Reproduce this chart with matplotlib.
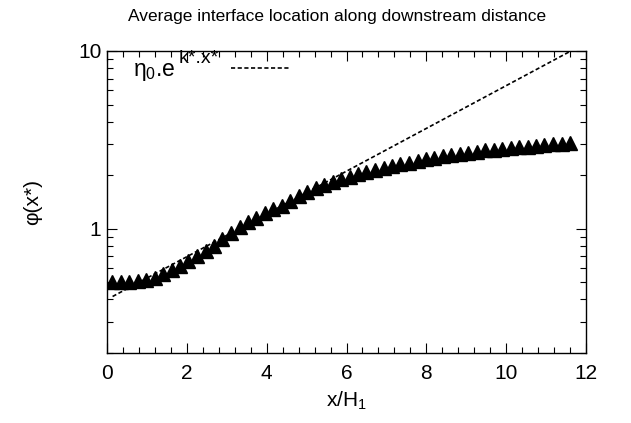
import matplotlib
matplotlib.use("Agg")
import matplotlib.pyplot as plt
from matplotlib.ticker import AutoMinorLocator, LogLocator, NullFormatter, FixedLocator, FixedFormatter
from matplotlib.lines import Line2D
import numpy as np

plt.rcParams['font.family'] = ['Liberation Sans', 'DejaVu Sans']
plt.rcParams['mathtext.fontset'] = 'custom'
plt.rcParams['mathtext.rm'] = 'Liberation Sans'
plt.rcParams['mathtext.it'] = 'Liberation Sans'
plt.rcParams['mathtext.default'] = 'regular'

# measured data (triangles)
x_data = [0.13, 0.34, 0.55, 0.77, 0.98, 1.19, 1.40, 1.62, 1.83, 2.04,
          2.25, 2.47, 2.68, 2.89, 3.10, 3.32, 3.53, 3.74, 3.95, 4.16,
          4.38, 4.59, 4.80, 5.01, 5.23, 5.44, 5.65, 5.86, 6.08, 6.29,
          6.50, 6.71, 6.93, 7.14, 7.35, 7.56, 7.78, 7.99, 8.20, 8.41,
          8.63, 8.84, 9.05, 9.26, 9.48, 9.69, 9.90, 10.11, 10.33, 10.54,
          10.75, 10.96, 11.18, 11.39, 11.60]
phi_data = [0.50, 0.50, 0.50, 0.505, 0.515, 0.53, 0.555, 0.585, 0.615, 0.655,
            0.70, 0.745, 0.80, 0.88, 0.95, 1.02, 1.09, 1.15, 1.22, 1.29,
            1.35, 1.44, 1.53, 1.62, 1.70, 1.77, 1.84, 1.90, 1.96, 2.02,
            2.08, 2.13, 2.19, 2.25, 2.30, 2.35, 2.41, 2.46, 2.51, 2.55,
            2.60, 2.64, 2.68, 2.72, 2.76, 2.79, 2.82, 2.85, 2.88, 2.90,
            2.93, 2.95, 2.98, 3.01, 3.05]

# exponential fit parameters
eta0 = 0.40
kstar = 0.277
fit_x = [0.14, 12.0]

W, H = 631, 423
fig = plt.figure(figsize=(W/100, H/100), dpi=100)
ax = fig.add_axes([107/W, 1-353/H, (586-107)/W, (353-51)/H])

dash = (0, (2.5, 1.5))
xs = np.linspace(fit_x[0], fit_x[1], 300)
ax.plot(xs, eta0*np.exp(kstar*xs), color='black', lw=1.2, ls=dash, zorder=2)
ax.plot(x_data, phi_data, ls='none', marker='^', ms=9.5, color='black', zorder=3)

ax.set_yscale('log')
ax.set_xlim(0, 12)
ax.set_ylim(0.2, 10)

ax.set_xticks([0, 2, 4, 6, 8, 10, 12])
ax.xaxis.set_minor_locator(AutoMinorLocator(5))
ax.yaxis.set_major_locator(FixedLocator([1, 10]))
ax.yaxis.set_major_formatter(FixedFormatter(['1', '10']))
ax.yaxis.set_minor_locator(LogLocator(base=10, subs=np.arange(2, 10)))
ax.yaxis.set_minor_formatter(NullFormatter())

ax.tick_params(which='both', direction='in', top=True, right=True, labelsize=15, width=0.8)
ax.tick_params(which='major', length=7)
ax.tick_params(axis='x', which='major', pad=8)
ax.tick_params(axis='y', which='major', pad=4)
ax.tick_params(which='minor', length=4)
for s in ax.spines.values():
    s.set_linewidth(1.0)

ax.set_xlabel('x/H$_1$', fontsize=15, labelpad=5)
ax.set_ylabel('\u03c6(x*)', fontsize=15, labelpad=26)

fig.text(337/W, 1-17/H, 'Average interface location along downstream distance',
         ha='center', va='center', fontsize=12.5)

# key: text then dashed sample
fig.text(133/W, 1-76/H, r'$\eta_0$.e', ha='left', va='baseline', fontsize=16.5)
fig.text(179/W, 1-63/H, 'k*.x*', ha='left', va='baseline', fontsize=14)
fig.add_artist(Line2D([231/W, 291/W], [1-68/H, 1-68/H], transform=fig.transFigure,
                      color='black', lw=1.2, ls=dash))

fig.savefig('out.png', dpi=100)
